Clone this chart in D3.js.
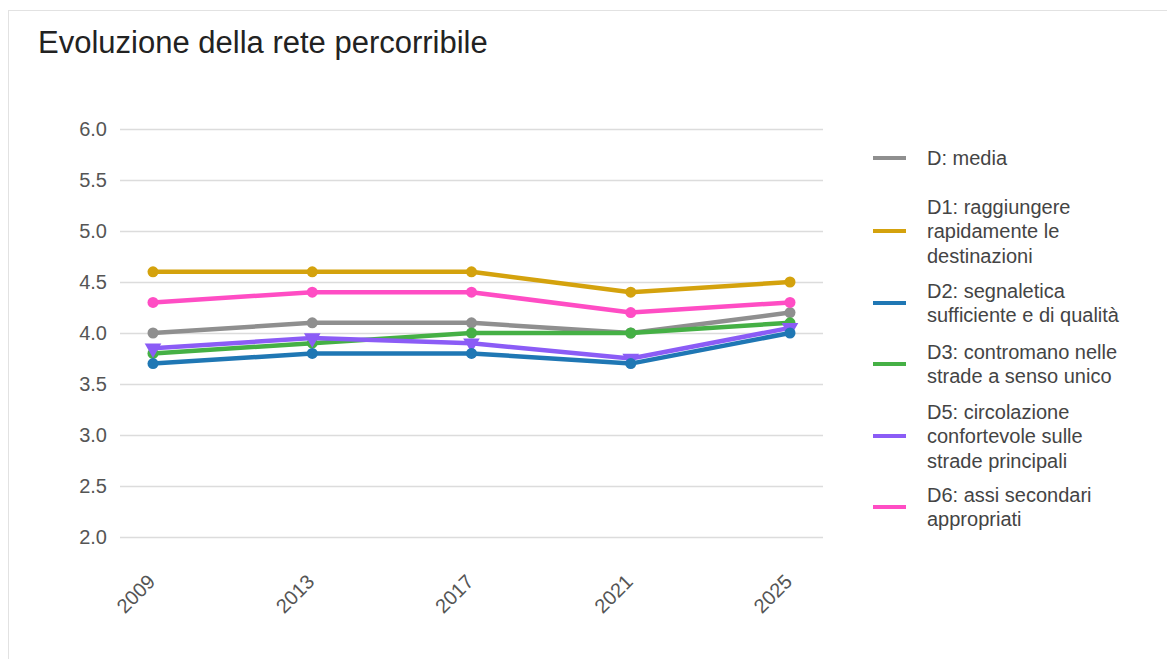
<!DOCTYPE html>
<html>
<head>
<meta charset="utf-8">
<script src="https://cdn.jsdelivr.net/npm/d3@7"></script>
<style>
  body { margin: 0; background: #fff; }
  text { font-family: "Liberation Sans", Arial, sans-serif; }
</style>
</head>
<body>
<div id="chart"></div>
<script>
// Data
var years = ["2009", "2013", "2017", "2021", "2025"];
var yTicks = [2.0, 2.5, 3.0, 3.5, 4.0, 4.5, 5.0, 5.5, 6.0];

var seriesNames = ["D: media", "D1: raggiungere rapidamente le destinazioni", "D2: segnaletica sufficiente e di qualità", "D3: contromano nelle strade a senso unico", "D5: circolazione confortevole sulle strade principali", "D6: assi secondari appropriati"];
var legendLines = [
    ["D: media"],
    ["D1: raggiungere", "rapidamente le", "destinazioni"],
    ["D2: segnaletica", "sufficiente e di qualità"],
    ["D3: contromano nelle", "strade a senso unico"],
    ["D5: circolazione", "confortevole sulle", "strade principali"],
    ["D6: assi secondari", "appropriati"]
];
var valuesD = [4.0, 4.1, 4.1, 4.0, 4.2];
var valuesD1 = [4.6, 4.6, 4.6, 4.4, 4.5];
var valuesD2 = [3.7, 3.8, 3.8, 3.7, 4.0];
var valuesD3 = [3.8, 3.9, 4.0, 4.0, 4.1];
var valuesD5 = [3.85, 3.95, 3.9, 3.75, 4.05];
var valuesD6 = [4.3, 4.4, 4.4, 4.2, 4.3];
var colors = ["#8f8f8f", "#d4a20d", "#1f77b4", "#45b045", "#8b5cf6", "#ff4dc4"];

var allValues = [valuesD, valuesD1, valuesD2, valuesD3, valuesD5, valuesD6];
var series = seriesNames.map(function(name, i) {
    return { name: name, values: allValues[i], color: colors[i], lines: legendLines[i], triangle: i === 4 };
});
// drawing order (later = on top)
var drawOrder = [0, 1, 5, 3, 4, 2];

var w = 1167, h = 659;

var svg = d3.select("#chart")
    .append("svg")
    .attr("width", w)
    .attr("height", h);

// light frame
svg.append("rect")
    .attr("x", 8.5)
    .attr("y", 10.5)
    .attr("width", w)
    .attr("height", h)
    .attr("fill", "#fff")
    .attr("stroke", "#e2e2e2")
    .attr("stroke-width", 1);

// title
svg.append("text")
    .attr("x", 38)
    .attr("y", 53)
    .attr("font-size", "31px")
    .attr("fill", "#222")
    .text("Evoluzione della rete percorribile");

var xScale = d3.scalePoint()
    .domain(years)
    .range([153, 790]);

var yScale = d3.scaleLinear()
    .domain([2, 6])
    .range([537, 129]);

// y axis with gridlines
var yAxis = d3.axisLeft(yScale)
    .tickValues(yTicks)
    .tickFormat(d3.format(".1f"))
    .tickSize(-(823 - 120))
    .tickPadding(13);

var gy = svg.append("g")
    .attr("transform", "translate(120,0)")
    .call(yAxis);
gy.select(".domain").remove();
gy.selectAll(".tick line")
    .attr("stroke", "#dcdcdc")
    .attr("stroke-width", 1.5);
gy.selectAll(".tick text")
    .attr("font-size", "20px")
    .attr("fill", "#555")
    .attr("font-family", "Liberation Sans, Arial, sans-serif");

// x axis labels rotated
var xAxis = d3.axisBottom(xScale).tickSize(0);
var gx = svg.append("g")
    .attr("transform", "translate(0,560)")
    .call(xAxis);
gx.select(".domain").remove();
gx.selectAll(".tick text")
    .attr("font-size", "20px")
    .attr("fill", "#555")
    .attr("font-family", "Liberation Sans, Arial, sans-serif")
    .attr("text-anchor", "end")
    .attr("x", 0)
    .attr("y", 0)
    .attr("dy", "0.35em")
    .attr("transform", "translate(-2,18) rotate(-45)");

var line = d3.line()
    .x(function(d, i) { return xScale(years[i]); })
    .y(function(d) { return yScale(d); });

var tri = d3.symbol().type(d3.symbolTriangle).size(120);

drawOrder.forEach(function(k) {
    var s = series[k];
    var g = svg.append("g");
    g.append("path")
        .datum(s.values)
        .attr("d", line)
        .attr("fill", "none")
        .attr("stroke", s.color)
        .attr("stroke-width", 4.5)
        .attr("stroke-linejoin", "round");

    if (s.triangle) {
        g.selectAll("path.mark")
            .data(s.values)
            .enter()
            .append("path")
            .attr("class", "mark")
            .attr("d", tri)
            .attr("fill", s.color)
            .attr("transform", function(d, i) {
                return "translate(" + xScale(years[i]) + "," + yScale(d) + ") rotate(180)";
            });
    } else {
        g.selectAll("circle")
            .data(s.values)
            .enter()
            .append("circle")
            .attr("cx", function(d, i) { return xScale(years[i]); })
            .attr("cy", function(d) { return yScale(d); })
            .attr("r", 5.5)
            .attr("fill", s.color);
    }
});

// legend
var legendY = [158, 231, 303, 364, 436, 507];
var lineH = 24.5;
var legend = svg.append("g");
series.forEach(function(s, i) {
    var cy = legendY[i];
    legend.append("line")
        .attr("x1", 873)
        .attr("x2", 906)
        .attr("y1", cy)
        .attr("y2", cy)
        .attr("stroke", s.color)
        .attr("stroke-width", 4);
    var n = s.lines.length;
    var t = legend.append("text")
        .attr("font-size", "20px")
        .attr("fill", "#444");
    s.lines.forEach(function(l, j) {
        t.append("tspan")
            .attr("x", 927)
            .attr("y", cy + (j - (n - 1) / 2) * lineH)
            .attr("dy", "0.35em")
            .text(l);
    });
});
</script>
</body>
</html>
